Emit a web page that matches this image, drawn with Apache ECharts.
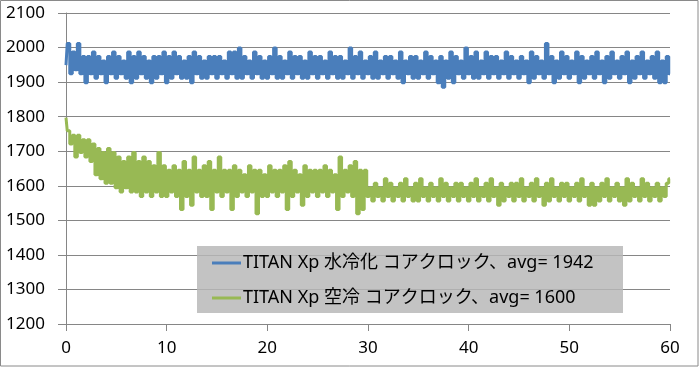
<!DOCTYPE html>
<html>
<head>
<meta charset="utf-8">
<script src="https://cdn.jsdelivr.net/npm/echarts@6/dist/echarts.min.js"></script>
<style>
html,body{margin:0;padding:0;background:#fff;}
#c{width:699px;height:367px;}
</style>
</head>
<body>
<div id="c"></div>
<script>
// time step between samples (seconds)
const timeStep = 0.25;
const xTicks = [0, 10, 20, 30, 40, 50, 60];
const yTicks = [1200, 1300, 1400, 1500, 1600, 1700, 1800, 1900, 2000, 2100];
const seriesNames = ['TITAN Xp 水冷化 コアクロック、avg= 1942', 'TITAN Xp 空冷 コアクロック、avg= 1600'];

const waterClock = [
1949,2012,1924,1987,1936,2012,1924,1974,1898,1974,1924,1987,1911,1974,1924,1961,1898,1974,1924,1987,
1911,1974,1924,1961,1911,1987,1898,1974,1911,1987,1924,1974,1911,1961,1898,1974,1911,1974,1924,1987,
1898,1974,1911,1987,1924,1974,1911,1961,1911,1974,1898,1987,1924,1974,1911,1961,1911,1974,1924,1974,
1911,1974,1924,1961,1911,1987,1924,1987,1911,1999,1911,1974,1924,1961,1911,1987,1924,1974,1911,1961,
1911,1974,1924,1999,1911,1974,1911,1961,1924,1987,1911,1974,1924,1974,1911,1961,1911,1987,1924,1974,
1911,1974,1924,1961,1911,1987,1924,1974,1911,1974,1911,1961,1924,1999,1911,1974,1924,1987,1911,1961,
1924,1974,1911,1987,1911,1961,1924,1974,1911,1974,1924,1961,1911,1987,1898,1961,1924,1974,1911,1974,
1911,1961,1924,1987,1911,1974,1924,1961,1898,1974,1885,1961,1911,1987,1898,1974,1924,1961,1911,1999,
1924,1974,1911,1987,1911,1961,1924,1987,1911,1974,1924,1974,1911,1961,1924,1987,1911,1974,1924,1961,
1911,1974,1924,1961,1898,1987,1911,1974,1924,1961,1911,2012,1924,1974,1898,1961,1911,1987,1924,1974,
1911,1961,1924,1987,1898,1974,1911,1961,1924,1974,1911,1987,1924,1961,1898,1974,1911,1987,1924,1961,
1911,1974,1924,1987,1898,1961,1911,1974,1924,1987,1911,1961,1924,1974,1911,1987,1898,1961,1898,1974,
1924
];

const airClock = [
1797,1759,1721,1746,1683,1746,1696,1733,1683,1733,1670,1721,1632,1708,1620,1696,1607,1708,1607,1696,
1594,1683,1582,1670,1594,1683,1582,1696,1582,1670,1569,1683,1582,1670,1569,1658,1582,1696,1569,1658,
1569,1645,1582,1658,1569,1645,1531,1670,1569,1645,1544,1683,1582,1645,1569,1658,1569,1670,1531,1645,
1582,1683,1569,1645,1582,1645,1531,1658,1569,1645,1582,1632,1569,1658,1582,1645,1519,1645,1569,1632,
1569,1658,1582,1645,1569,1645,1582,1658,1531,1670,1569,1645,1582,1632,1544,1658,1569,1645,1582,1645,
1569,1645,1582,1658,1569,1645,1582,1632,1531,1683,1569,1645,1582,1658,1569,1670,1519,1645,1531,1645,
1569,1594,1556,1607,1569,1594,1556,1620,1569,1607,1556,1594,1569,1607,1556,1620,1569,1594,1556,1607,
1556,1620,1569,1594,1556,1607,1569,1594,1556,1620,1569,1607,1556,1594,1569,1607,1556,1607,1569,1594,
1556,1607,1569,1620,1556,1594,1569,1607,1556,1620,1569,1594,1544,1607,1556,1594,1569,1607,1556,1607,
1569,1620,1556,1594,1569,1607,1556,1620,1569,1594,1544,1607,1556,1620,1569,1594,1556,1607,1569,1607,
1556,1594,1569,1607,1556,1620,1569,1594,1544,1607,1544,1594,1556,1607,1569,1620,1556,1594,1569,1607,
1556,1594,1544,1620,1556,1607,1569,1594,1556,1620,1569,1607,1556,1594,1569,1607,1556,1594,1569,1607,
1620
];

const toPairs = arr => arr.map((v, i) => [i * timeStep, v]);
const FONT = '"Noto Sans", "Noto Sans CJK JP", sans-serif';
const AXIS = '#868686';

const chart = echarts.init(document.getElementById('c'), null, {renderer: 'canvas'});
chart.setOption({
  animation: false,
  backgroundColor: '#fff',
  graphic: [{
    type: 'rect', z: 100, silent: true,
    shape: {x: 0.5, y: 0.5, width: 697.5, height: 365.5},
    style: {fill: 'none', stroke: '#8a8a8a', lineWidth: 1}
  }],
  grid: {left: 66, right: 29, top: 13, bottom: 43, containLabel: false},
  xAxis: {
    type: 'value',
    min: xTicks[0], max: xTicks[xTicks.length - 1], interval: xTicks[1] - xTicks[0],
    axisLine: {show: true, lineStyle: {color: AXIS, width: 1}},
    axisTick: {show: true, inside: false, length: 7, lineStyle: {color: AXIS}},
    splitLine: {show: false},
    axisLabel: {color: '#000', fontFamily: FONT, fontSize: 17, margin: 16, formatter: v => String(v)}
  },
  yAxis: {
    type: 'value',
    min: yTicks[0], max: yTicks[yTicks.length - 1], interval: yTicks[1] - yTicks[0],
    axisLine: {show: true, lineStyle: {color: AXIS, width: 1}},
    axisTick: {show: true, inside: false, length: 8, lineStyle: {color: AXIS}},
    splitLine: {show: true, lineStyle: {color: AXIS, width: 1}},
    axisLabel: {color: '#000', fontFamily: FONT, fontSize: 17, margin: 21, formatter: v => String(v)}
  },
  legend: {
    orient: 'vertical',
    left: 197, top: 246,
    padding: [7, 10, 5, 15],
    backgroundColor: 'rgba(184,184,184,0.84)',
    icon: 'rect',
    itemWidth: 29, itemHeight: 3,
    itemGap: 15,
    textStyle: {color: '#000', fontFamily: FONT, fontSize: 18, lineHeight: 20, width: 370, overflow: 'none', padding: [0, 0, 0, -3]},
    data: seriesNames
  },
  series: [
    {name: seriesNames[0], type: 'line', step: 'middle', data: toPairs(waterClock), showSymbol: false,
     lineStyle: {color: '#4A7EBB', width: 3}, itemStyle: {color: '#4A7EBB'}, z: 3},
    {name: seriesNames[1], type: 'line', step: 'middle', data: toPairs(airClock), showSymbol: false,
     lineStyle: {color: '#98B954', width: 3}, itemStyle: {color: '#98B954'}, z: 4}
  ]
});
</script>
</body>
</html>
